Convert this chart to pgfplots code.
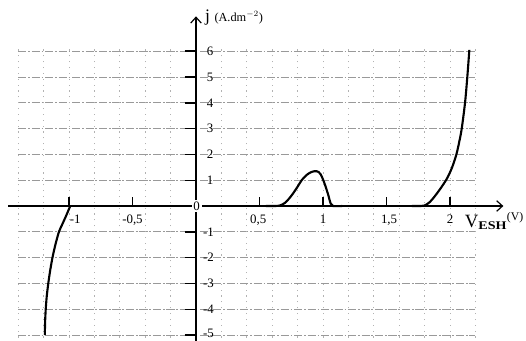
\documentclass[border=0pt]{standalone}
\usepackage{fontspec}
\setmainfont{Liberation Serif}
\usepackage{pgfplots}
\pgfplotsset{compat=1.18}
\usetikzlibrary{arrows.meta}
\begin{document}
\begin{tikzpicture}[font=\fontsize{11}{13}\selectfont]
\begin{axis}[
  x=3.81cm, y=0.774cm,
  axis lines=middle,
  xmin=-1.48, xmax=2.42, ymin=-5.3, ymax=7.35,
  axis line style={line width=1.2pt},
  x axis line style={-{Straight Barb[length=5pt,width=9pt,line width=1pt]}},
  y axis line style={-{Straight Barb[length=5pt,width=9pt,line width=1pt]}},
  xtick=\empty, ytick=\empty,
  clip=false,
]
% grid
\foreach \yy in {-5,-4,-3,-2,-1,1,2,3,4,5,6} {
  \edef\tmp{\noexpand\draw[gray!80, line width=0.6pt, dash pattern=on 7pt off 1.5pt on 1.5pt off 1.5pt] (axis cs:-1.4,\yy) -- (axis cs:-0.03,\yy);
  \noexpand\draw[gray!80, line width=0.6pt, dash pattern=on 7pt off 1.5pt on 1.5pt off 1.5pt] (axis cs:0.03,\yy) -- (axis cs:2.2,\yy);}\tmp
}
\foreach \xx in {-1.4,-1.2,-1.0,-0.8,-0.6,-0.4,-0.2,0.2,0.4,0.6,0.8,1.0,1.2,1.4,1.6,1.8,2.0,2.2} {
  \edef\tmp{\noexpand\draw[gray!60, line width=0.6pt, dash pattern=on 1pt off 4pt] (axis cs:\xx,-5.1) -- (axis cs:\xx,6.1);}\tmp
}
% tick marks
\foreach \xx in {-1,-0.5,0.5,1,1.5,2} {
  \edef\tmp{\noexpand\draw[line width=1pt] (axis cs:\xx,0) -- (axis cs:\xx,0.35);}\tmp
}
\foreach \yy in {-5,-4,-3,-2,-1,1,2,3,4,5,6} {
  \edef\tmp{\noexpand\draw[line width=1.2pt] (axis cs:-0.09,\yy) -- (axis cs:0,\yy);}\tmp
}
% tick labels
\node[anchor=north] at (axis cs:-0.95,-0.2) {-1};
\node[anchor=north] at (axis cs:-0.5,-0.2) {-0,5};
\node[anchor=north] at (axis cs:0.49,-0.2) {0,5};
\node[anchor=north] at (axis cs:1.0,-0.2) {1};
\node[anchor=north] at (axis cs:1.52,-0.2) {1,5};
\node[anchor=north] at (axis cs:2.0,-0.2) {2};
\foreach \yy in {1,2,3,4,5,6} {
  \edef\tmp{\noexpand\node[anchor=west, inner sep=1pt] at (axis cs:0.075,\yy) {\yy};}\tmp
}
\foreach \yy in {-1,-2,-3,-4} {
  \edef\tmp{\noexpand\node[anchor=west, inner sep=1pt] at (axis cs:0.045,\yy) {\yy};}\tmp
}
\node[anchor=west, inner sep=1pt] at (axis cs:0.045,-4.93) {-5};
\node[fill=white, inner sep=1.5pt] at (axis cs:0.005,0) {0};
% axis labels
\node[anchor=west, inner sep=0pt] at (axis cs:0.07,7.3) {{\fontsize{15}{17}\selectfont j}\hspace{0.35em}{\fontsize{10.5}{12}\selectfont (A.dm$^{-2}$)}};
\node[anchor=base west, inner sep=0pt] at (axis cs:2.115,-0.85) {{\fontsize{16}{18}\selectfont V}\raisebox{-1.7pt}{\scalebox{1.2}[1.0]{\fontsize{10}{12}\selectfont\bfseries ESH}}\hspace{0.3pt}\raisebox{6.5pt}{\fontsize{10}{12}\selectfont (V)}};
% curves
\addplot[black, line width=1.8pt, smooth, tension=0.45] coordinates {
 (-0.99,0) (-1.02,-0.35) (-1.05,-0.68) (-1.079,-1) (-1.107,-1.5) (-1.13,-2) (-1.148,-2.5) (-1.163,-3) (-1.175,-3.5) (-1.183,-4) (-1.188,-4.5) (-1.19,-5)
};
\addplot[black, line width=1.8pt, smooth, tension=0.5] coordinates {
 (0.55,0) (0.62,0) (0.66,0.02) (0.7,0.12) (0.735,0.3) (0.766,0.5) (0.8,0.75) (0.832,1.0) (0.87,1.2) (0.91,1.32) (0.95,1.35) (0.98,1.24) (1.01,0.9) (1.04,0.45) (1.06,0.1) (1.08,0) (1.15,0)
};
\addplot[black, line width=1.8pt, smooth, tension=0.5] coordinates {
 (1.7,0) (1.77,0) (1.8,0.02) (1.84,0.15) (1.88,0.38) (1.925,0.68) (1.974,1.05) (2.015,1.48) (2.05,2.0) (2.073,2.5) (2.092,3) (2.118,4) (2.136,5) (2.152,6.05)
};
\coordinate (bl) at (axis cs:-1.543,-5.194);
\coordinate (tr) at (axis cs:2.598,7.984);
\end{axis}
\pgfresetboundingbox
\useasboundingbox (bl) rectangle (tr);
\end{tikzpicture}
\end{document}
